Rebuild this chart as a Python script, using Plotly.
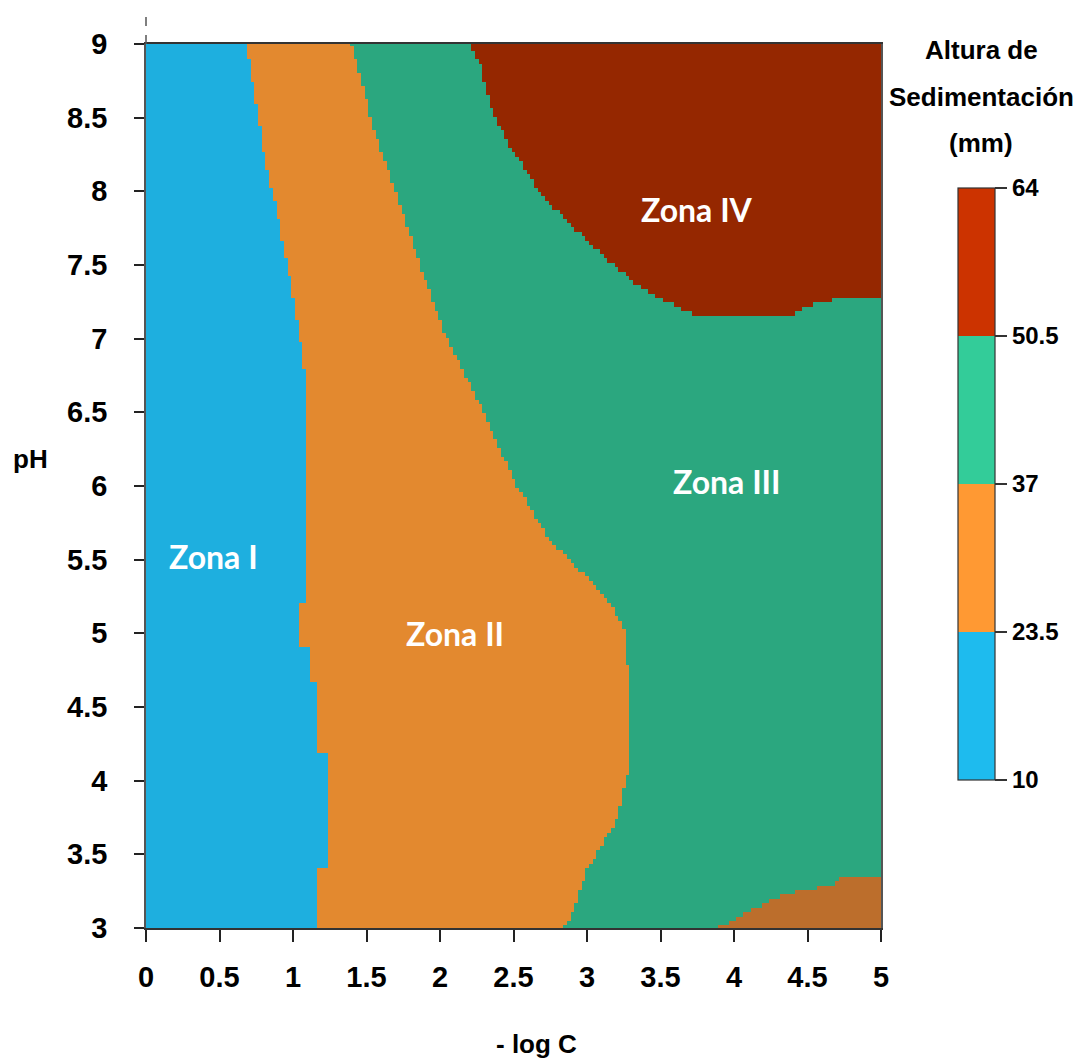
import numpy as np
import plotly.graph_objects as go

# ---- data ----
# x axis: -log C ; y axis: pH
x_ticks = [0, 0.5, 1, 1.5, 2, 2.5, 3, 3.5, 4, 4.5, 5]
x_ticklabels = ["0", "0.5", "1", "1.5", "2", "2.5", "3", "3.5", "4", "4.5", "5"]
y_ticks = [3, 3.5, 4, 4.5, 5, 5.5, 6, 6.5, 7, 7.5, 8, 8.5, 9]
y_ticklabels = ["3", "3.5", "4", "4.5", "5", "5.5", "6", "6.5", "7", "7.5", "8", "8.5", "9"]

# colour levels of "Altura de Sedimentación (mm)"
levels = [10, 23.5, 37, 50.5, 64]
level_labels = ["10", "23.5", "37", "50.5", "64"]

# boundary Zona I / Zona II : -log C at given pH
b12_ph = [3.0, 3.39, 3.40, 4.19, 4.20, 4.66, 4.67, 4.91, 4.92, 5.19, 5.20, 6.6, 7.04, 7.34, 7.65, 7.95, 8.26, 8.67, 9.0]
b12_x = [1.17, 1.17, 1.23, 1.23, 1.17, 1.17, 1.12, 1.12, 1.05, 1.05, 1.10, 1.10, 1.04, 0.99, 0.93, 0.87, 0.80, 0.74, 0.68]

# boundary Zona II / Zona III : -log C at given pH
b23_ph = [3.0, 3.15, 3.39, 3.6, 3.73, 4.07, 4.6, 5.0, 5.2, 5.43, 5.65, 6.04, 6.6, 7.06, 7.51, 7.96, 8.42, 9.0]
b23_x = [2.85, 2.92, 3.0, 3.12, 3.2, 3.28, 3.28, 3.27, 3.16, 2.95, 2.73, 2.5, 2.25, 2.02, 1.86, 1.71, 1.55, 1.40]

# lower edge of Zona IV : pH at given -log C
b4_x = [2.2, 2.27, 2.36, 2.48, 2.7, 3.04, 3.38, 3.72, 4.4, 4.47, 4.67, 5.0]
b4_ph = [9.0, 8.87, 8.53, 8.3, 7.96, 7.62, 7.33, 7.16, 7.15, 7.21, 7.26, 7.28]

# upper edge of the lower-right patch (23.5-37 mm) : pH at given -log C
b5_x = [3.9, 4.27, 4.47, 4.65, 4.72, 5.0]
b5_ph = [3.0, 3.2, 3.26, 3.28, 3.33, 3.34]

# representative height (mm) in each region
h_zone1 = 16.75
h_zone2 = 30.25
h_zone3 = 43.75
h_zone4 = 57.25
h_patch = 25.0

zone_names = ["Zona I", "Zona II", "Zona III", "Zona IV"]
zone_x = [0.456, 2.10, 3.95, 3.75]
zone_y = [5.52, 5.0, 6.03, 7.88]

# ---- build the map from the boundaries ----
gx = np.linspace(0, 5, 201)
gy = np.linspace(3, 9, 201)
X, Y = np.meshgrid(gx, gy)
lim12 = np.interp(Y, b12_ph, b12_x)
lim23 = np.interp(Y, b23_ph, b23_x)
lim4 = np.interp(X, b4_x, b4_ph, left=99, right=99)
lim5 = np.interp(X, b5_x, b5_ph, left=-99, right=-99)
Z = np.full(X.shape, h_zone3)
Z[Y < lim5] = h_patch
Z[Y > lim4] = h_zone4
Z[X < lim23] = h_zone2
Z[X < lim12] = h_zone1

# plot colours (shaded tones) and legend colours
plot_scale = [
    [0.0, "#1EAFDF"], [0.25, "#1EAFDF"],
    [0.25, "#BC6E2C"], [0.30, "#BC6E2C"],
    [0.30, "#E3892F"], [0.5, "#E3892F"],
    [0.5, "#2BA77F"], [0.75, "#2BA77F"],
    [0.75, "#952700"], [1.0, "#952700"],
]
bar_scale = [
    [0.0, "#1EBBEE"], [0.25, "#1EBBEE"],
    [0.25, "#FF9933"], [0.5, "#FF9933"],
    [0.5, "#33CC99"], [0.75, "#33CC99"],
    [0.75, "#CC3300"], [1.0, "#CC3300"],
]

# page offset of the figure (body margin)
OFF = 8
W, H = 1081, 1061
L, T = 146 - OFF, 44 - OFF
pw, ph = 735, 884
R = W - L - pw
B = H - T - ph

def px2paper(px, py):
    fx, fy = px - OFF, py - OFF
    return (fx - L) / pw, (H - B - fy) / ph

fig = go.Figure()
fig.add_trace(go.Heatmap(
    x=gx, y=gy, z=Z, zmin=levels[0], zmax=levels[-1],
    colorscale=plot_scale, showscale=False, hoverinfo="skip",
))

cbx, _ = px2paper(958, 0)
_, cby = px2paper(0, 484)
fig.add_trace(go.Scatter(
    x=[None, None], y=[None, None], mode="markers", showlegend=False,
    marker=dict(
        color=[levels[0], levels[-1]], cmin=levels[0], cmax=levels[-1],
        colorscale=bar_scale, showscale=True,
        colorbar=dict(
            x=cbx, xanchor="left", y=cby, yanchor="middle",
            lenmode="pixels", len=592, thicknessmode="pixels", thickness=37,
            xpad=0, ypad=0,
            tickvals=levels, ticktext=level_labels,
            ticks="outside", ticklen=12, tickwidth=1.5, tickcolor="#333",
            tickfont=dict(family="Liberation Sans, Arial", size=24, color="black", weight="bold"),
            outlinewidth=1.2, outlinecolor="#333",
        ),
    ),
))

tickfont = dict(family="Liberation Sans, Arial", size=29, color="black", weight="bold")
fig.update_xaxes(
    range=[0, 5], tickvals=x_ticks, ticktext=x_ticklabels,
    ticks="outside", ticklen=12, tickwidth=2, tickcolor="#222",
    showline=True, linecolor="#333", linewidth=1.5, mirror=True,
    showgrid=False, zeroline=False, tickfont=tickfont, ticklabelstandoff=10,
)
fig.update_yaxes(
    range=[3, 9], tickvals=y_ticks, ticktext=y_ticklabels,
    ticks="outside", ticklen=10, tickwidth=2, tickcolor="#222",
    showline=True, linecolor="#555", linewidth=1.5, mirror=True,
    showgrid=False, zeroline=False, tickfont=tickfont, ticklabelstandoff=21,
)

ann = []
for name, zx, zy in zip(zone_names, zone_x, zone_y):
    ann.append(dict(x=zx, y=zy, xref="x", yref="y", text=name, showarrow=False,
                    xanchor="center", yanchor="middle",
                    font=dict(family="Lato, Open Sans", size=32, color="white", weight="bold")))

for txt, (ax_, ay_), sz in [("pH", (30, 459), 26), ("- log C", (536, 1044), 26)]:
    xx, yy = px2paper(ax_, ay_)
    ann.append(dict(x=xx, y=yy, xref="paper", yref="paper", text=txt, showarrow=False,
                    xanchor="center", yanchor="middle",
                    font=dict(family="Liberation Sans, Arial", size=sz, color="black", weight="bold")))

for txt, py in [("Altura de", 50), ("Sedimentación", 97), ("(mm)", 143)]:
    xx, yy = px2paper(981, py)
    ann.append(dict(x=xx, y=yy, xref="paper", yref="paper", text=txt, showarrow=False,
                    xanchor="center", yanchor="middle",
                    font=dict(family="Liberation Sans, Arial", size=26, color="black", weight="bold")))

_, ytop = px2paper(0, 10)
fig.add_shape(type="line", xref="paper", yref="paper", x0=0, x1=0, y0=1, y1=ytop,
              line=dict(color="#555", width=1.5, dash="dash"))

fig.update_layout(
    width=W, height=H, margin=dict(l=L, r=R, t=T, b=B, autoexpand=False),
    paper_bgcolor="white", plot_bgcolor="white", annotations=ann,
)

fig.write_html("out.html")
